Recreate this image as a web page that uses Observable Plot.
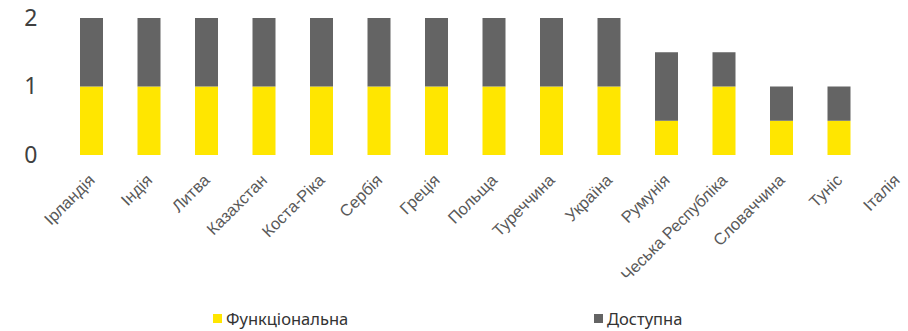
<!DOCTYPE html>
<html>
<head>
<meta charset="utf-8">
<script src="https://cdn.jsdelivr.net/npm/d3@7"></script>
<script src="https://cdn.jsdelivr.net/npm/@observablehq/plot@0.6"></script>
<style>
  body { margin: 0; background: #fff; }
  #chart { width: 908px; height: 331px; position: relative; overflow: hidden; }
  .legend { position: absolute; top: 300px; left: 0; width: 908px; height: 31px; font-family: "Noto Sans", "Liberation Sans", sans-serif; font-size: 16.5px; color: #333; }
  .legend .item { position: absolute; top: 7px; display: flex; align-items: center; }
  .legend .sw { width: 9px; height: 9px; margin-right: 4px; display: inline-block; }
</style>
</head>
<body>
<div id="chart"></div>
<script>
const categories = ["Ірландія", "Індія", "Литва", "Казахстан", "Коста-Ріка", "Сербія", "Греція", "Польща", "Туреччина", "Україна", "Румунія", "Чеська Республіка", "Словаччина", "Туніс", "Італія"];
const functional = [1, 1, 1, 1, 1, 1, 1, 1, 1, 1, 0.5, 1, 0.5, 0.5, 0];
const available  = [1, 1, 1, 1, 1, 1, 1, 1, 1, 1, 1, 0.5, 0.5, 0.5, 0];
const seriesNames = ["Функціональна", "Доступна"];
const seriesColors = ["#FFE600", "#646464"];
const yTicks = [0, 1, 2];

const rows = [];
categories.forEach((c, i) => {
  rows.push({cat: c, series: seriesNames[0], value: functional[i]});
  rows.push({cat: c, series: seriesNames[1], value: available[i]});
});

const chart = Plot.plot({
  width: 908,
  height: 300,
  marginLeft: 80,
  marginRight: 0,
  marginTop: 18,
  marginBottom: 145,
  style: {fontFamily: "'Liberation Sans', Arial, sans-serif", background: "#fff", fontSize: "16.5px"},
  x: {domain: categories, paddingInner: 0.6, paddingOuter: 0, round: false, label: null},
  y: {domain: [0, 2], label: null},
  color: {domain: seriesNames, range: seriesColors},
  marks: [
    Plot.barY(rows, Plot.stackY({x: "cat", y: "value", fill: "series", order: seriesNames})),
    Plot.axisX({tickSize: 0, tickPadding: 22, tickRotate: -45, fontSize: 16.5, fill: "#595959", label: null}),
    Plot.axisY({ticks: yTicks, tickSize: 0, tickPadding: 43, fontSize: 23, fill: "#404040", fontFamily: "'Noto Sans', sans-serif", label: null, tickFormat: d => String(d)})
  ]
});

const root = document.getElementById("chart");
root.appendChild(chart);

const legend = document.createElement("div");
legend.className = "legend";
const legendX = [213, 594];
seriesNames.forEach((s, i) => {
  const it = document.createElement("div");
  it.className = "item";
  it.style.left = legendX[i] + "px";
  const sw = document.createElement("span");
  sw.className = "sw";
  sw.style.background = seriesColors[i];
  it.appendChild(sw);
  const t = document.createElement("span");
  t.textContent = s;
  it.appendChild(t);
  legend.appendChild(it);
});
root.appendChild(legend);
</script>
</body>
</html>
